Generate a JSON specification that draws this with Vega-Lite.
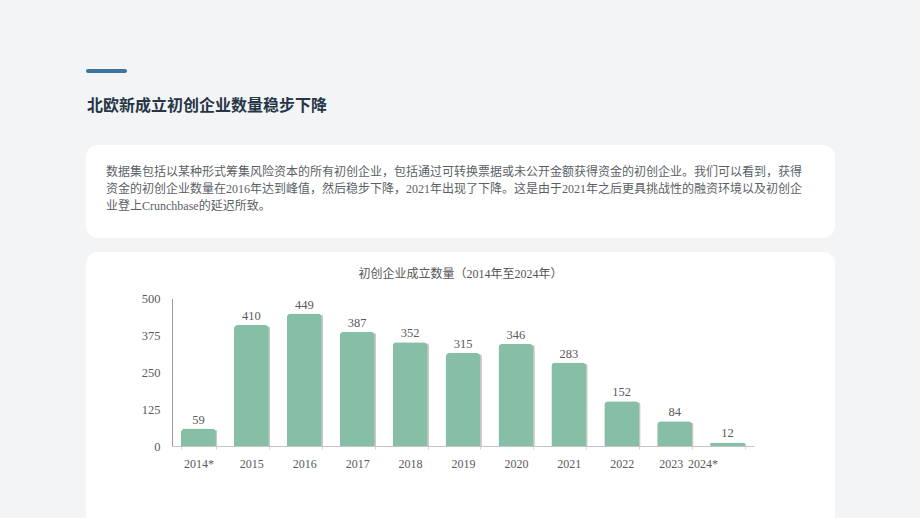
{
  "$schema": "https://vega.github.io/schema/vega-lite/v6.json",
  "background": "#f3f4f6",
  "padding": {"left": 86, "top": 69, "right": 85, "bottom": 0},
  "config": {
    "view": {"stroke": null},
    "font": "Liberation Serif, Noto Sans CJK SC",
    "concat": {"spacing": 14}
  },
  "datasets": {
    "startups": [
      {"year": "2014*", "count": 59},
      {"year": "2015", "count": 410},
      {"year": "2016", "count": 449},
      {"year": "2017", "count": 387},
      {"year": "2018", "count": 352},
      {"year": "2019", "count": 315},
      {"year": "2020", "count": 346},
      {"year": "2021", "count": 283},
      {"year": "2022", "count": 152},
      {"year": "2023", "count": 84},
      {"year": "2024*", "count": 12}
    ]
  },
  "vconcat": [
    {
      "spacing": 31,
      "vconcat": [
        {
          "width": 41,
          "height": 4,
          "view": {"fill": "#3d74a0", "cornerRadius": 2, "stroke": null},
          "title": {
            "text": "北欧新成立初创企业数量稳步下降",
            "orient": "bottom",
            "anchor": "start",
            "offset": 25,
            "dx": 1,
            "fontSize": 16,
            "fontWeight": "bold",
            "color": "#263646",
            "font": "Noto Sans CJK SC"
          },
          "data": {"values": []},
          "mark": "point",
          "encoding": {}
        },
        {
          "width": 749,
          "height": 93,
          "view": {"fill": "#ffffff", "cornerRadius": 12, "stroke": null},
          "title": {
            "text": [
              "数据集包括以某种形式筹集风险资本的所有初创企业，包括通过可转换票据或未公开金额获得资金的初创企业。我们可以看到，获得",
              "资金的初创企业数量在2016年达到峰值，然后稳步下降，2021年出现了下降。这是由于2021年之后更具挑战性的融资环境以及初创企",
              "业登上Crunchbase的延迟所致。"
            ],
            "orient": "top",
            "anchor": "start",
            "offset": -68,
            "baseline": "top",
            "dx": 20,
            "fontSize": 12,
            "fontWeight": "normal",
            "lineHeight": 17,
            "color": "#5a5f66"
          },
          "data": {"values": []},
          "mark": "point",
          "encoding": {}
        }
      ]
    },
    {
      "width": 749,
      "height": 276,
      "view": {"fill": "#ffffff", "cornerRadius": 12, "stroke": null},
      "title": {
        "text": "初创企业成立数量（2014年至2024年）",
        "orient": "top",
        "anchor": "middle",
        "offset": -29,
        "baseline": "top",
        "fontSize": 12,
        "fontWeight": "normal",
        "color": "#555555"
      },
      "data": {"name": "startups"},
      "encoding": {
        "x": {
          "field": "year",
          "type": "ordinal",
          "sort": null,
          "scale": {"range": [86, 668], "paddingInner": 0.34, "paddingOuter": 0.17},
          "axis": {
            "orient": "bottom",
            "offset": -82,
            "title": null,
            "labelAngle": 0,
            "domainColor": "#c4c4c4",
            "tickColor": "#d4d4d4",
            "tickSize": 3,
            "tickBand": "extent",
            "labelPadding": 9,
            "labelColor": "#5a5a5a",
            "labelFontSize": 12,
            "labelOffset": {
              "condition": [
                {"test": "datum.label === '2024*'", "value": -25},
                {"test": "datum.label === '2023'", "value": -4}
              ],
              "value": 0
            }
          }
        },
        "y": {
          "field": "count",
          "type": "quantitative",
          "scale": {"domain": [0, 500], "range": [194, 46.5], "nice": false},
          "axis": {
            "orient": "left",
            "offset": -86,
            "title": null,
            "values": [0, 125, 250, 375, 500],
            "ticks": false,
            "grid": false,
            "domainColor": "#9a9a9a",
            "labelPadding": 12,
            "labelColor": "#5a5a5a",
            "labelFontSize": 12.5
          }
        }
      },
      "layer": [
        {"mark": {"type": "bar", "color": "#c8c8c8", "xOffset": 1.5, "yOffset": 1.5, "cornerRadiusEnd": 4}},
        {"mark": {"type": "bar", "color": "#87bea6", "cornerRadiusEnd": 4}},
        {
          "mark": {"type": "text", "baseline": "bottom", "dy": -2, "fontSize": 12.5, "color": "#5a5a5a"},
          "encoding": {"text": {"field": "count", "type": "quantitative"}}
        }
      ]
    }
  ]
}
